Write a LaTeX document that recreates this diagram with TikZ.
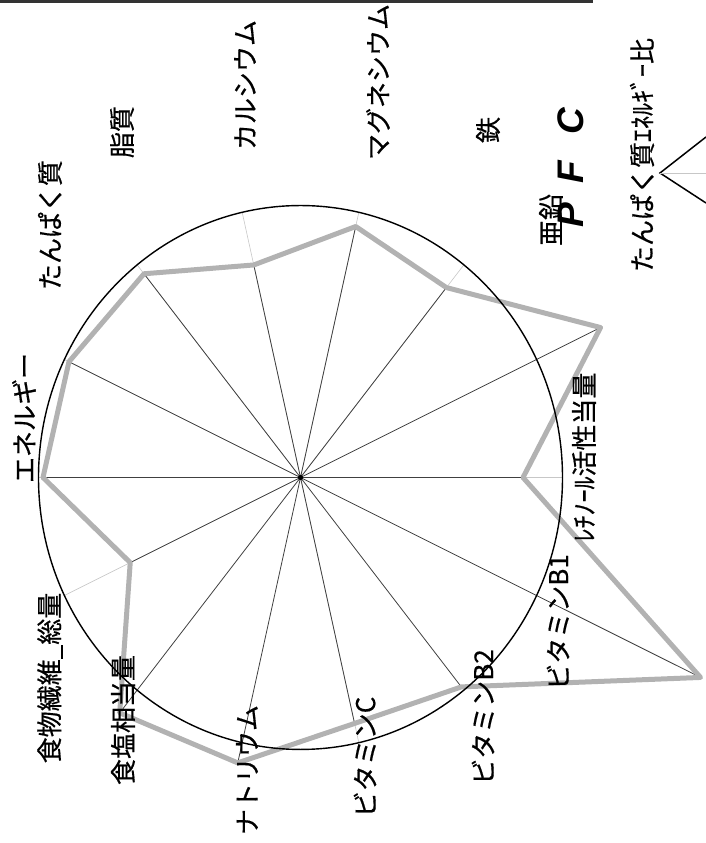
\documentclass[tikz,border=0pt]{standalone}
\usepackage{fontspec}
\newfontfamily\jpfont[FakeBold=0.5]{Noto Sans CJK JP}
\newfontfamily\pfcfont{Liberation Sans}

\begin{document}
\begin{tikzpicture}[x=1pt, y=1pt,
	spoke/.style={draw=black!75, line width=0.8pt},
	faint/.style={draw=black!22, line width=0.6pt},
	value/.style={draw=black!30, line width=5pt, line join=round},
	axislabel/.style={rotate=90, inner sep=0pt, font=\jpfont\fontsize{26}{26}\selectfont}]
	\useasboundingbox (0,0) rectangle (706,843);
	\draw [line width=2.5pt, black!80] (0,841.5) -- (593,841.5);
	
	\begin{scope}[shift={(300.5,365.5)}, yscale=1.038]
	\coordinate (O) at (0,0);
	\coordinate (ene) at (180:257.5);
	\coordinate (pro) at (154.29:257);
	\coordinate (fat) at (128.57:251);
	\coordinate (ca) at (102.86:210);
	\coordinate (mg) at (77.14:248);
	\coordinate (fe) at (51.43:234);
	\coordinate (zn) at (25.71:333);
	\coordinate (ret) at (0:222.5);
	\coordinate (bone) at (-25.71:444);
	\coordinate (btwo) at (-51.43:258);
	\coordinate (vc) at (-77.14:243);
	\coordinate (na) at (-102.86:282);
	\coordinate (salt) at (-128.57:290);
	\coordinate (fib) at (-154.29:189);
	
	\draw [faint] (O) -- (180:262);
	\draw [faint] (O) -- (154.29:262);
	\draw [faint] (O) -- (128.57:262);
	\draw [faint] (O) -- (102.86:262);
	\draw [faint] (O) -- (77.14:262);
	\draw [faint] (O) -- (51.43:262);
	\draw [faint] (O) -- (0:262);
	\draw [faint] (O) -- (-77.14:262);
	\draw [faint] (O) -- (-154.29:262);
	
	\draw [spoke] (O) -- (ene);
	\draw [spoke] (O) -- (pro);
	\draw [spoke] (O) -- (fat);
	\draw [spoke] (O) -- (ca);
	\draw [spoke] (O) -- (mg);
	\draw [spoke] (O) -- (fe);
	\draw [spoke] (O) -- (zn);
	\draw [spoke] (O) -- (ret);
	\draw [spoke] (O) -- (bone);
	\draw [spoke] (O) -- (btwo);
	\draw [spoke] (O) -- (vc);
	\draw [spoke] (O) -- (na);
	\draw [spoke] (O) -- (salt);
	\draw [spoke] (O) -- (fib);
	
	\draw [value] (ene) -- (pro) -- (fat) -- (ca) -- (mg) -- (fe) -- (zn) -- (ret)
		-- (bone) -- (btwo) -- (vc) -- (na) -- (salt) -- (fib) -- cycle;
	
	\draw [line width=1.4pt] (O) circle [radius=262];
	\fill (O) circle [radius=2.5];
	\end{scope}
	
	\node [axislabel] (lene) at (24,425) {エネルギー};
	\node [axislabel] (lpro) at (50,618) {たんぱく質};
	\node [axislabel] (lfat) at (122,711) {脂質};
	\node [axislabel] (lca) at (245,758) {カルシウム};
	\node [axislabel] (lmg) at (378,761) {マグネシウム};
	\node [axislabel] (lfe) at (488,713) {鉄};
	\node [axislabel] (lzn) at (551,623) {亜鉛};
	\node [axislabel] (lret) at (584,386) {ﾚﾁﾉｰﾙ活性当量};
	\node [axislabel] (lbone) at (558,221) {ビタミンB1};
	\node [axislabel] (lbtwo) at (483,126) {ビタミンB2};
	\node [axislabel] (lvc) at (365,86) {ビタミンC};
	\node [axislabel] (lna) at (247,73) {ナトリウム};
	\node [axislabel] (lsalt) at (123,123) {食塩相当量};
	\node [axislabel] (lfib) at (50,165) {食物繊維\_総量};
	
	\node [rotate=90, inner sep=0pt, font=\pfcfont\bfseries\itshape\fontsize{37}{37}\selectfont] (pfc) at (571,675) {P\hspace{20pt}F\hspace{26pt}C};
	\node [axislabel] (lpfc) at (642,688) {たんぱく質ｴﾈﾙｷﾞｰ比};
	
	\coordinate (tip) at (660,670);
	\draw [line width=1.5pt] (706,706) -- (tip) -- (706,640);
	\draw [faint] (tip) -- (706,670);
\end{tikzpicture}
\end{document}
